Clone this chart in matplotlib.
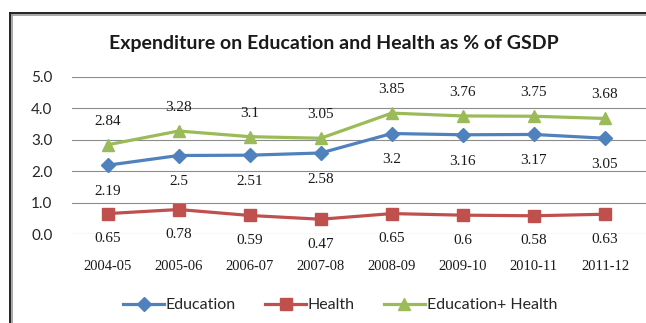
import matplotlib
matplotlib.use("Agg")
import matplotlib.pyplot as plt
from matplotlib.lines import Line2D

years = ["2004-05", "2005-06", "2006-07", "2007-08", "2008-09", "2009-10", "2010-11", "2011-12"]
education = [2.19, 2.5, 2.51, 2.58, 3.2, 3.16, 3.17, 3.05]
health = [0.65, 0.78, 0.59, 0.47, 0.65, 0.6, 0.58, 0.63]
edu_health = [2.84, 3.28, 3.1, 3.05, 3.85, 3.76, 3.75, 3.68]
yticks = [0.0, 1.0, 2.0, 3.0, 4.0, 5.0]

W, H = 646, 323
fig = plt.figure(figsize=(W / 100, H / 100), dpi=100)
fig.patch.set_facecolor("white")

# plot area runs to the right edge of the canvas
ax = fig.add_axes([72 / W, 1 - 234 / H, (646 - 72) / W, (234 - 77) / H])
x = list(range(len(years)))

blue, red, green = "#4F81BD", "#C0504D", "#9BBB59"
ax.plot(x, education, color=blue, lw=2.3, marker="D", ms=7, label="Education", zorder=3)
ax.plot(x, health, color=red, lw=2.3, marker="s", ms=9, label="Health", zorder=3)
ax.plot(x, edu_health, color=green, lw=2.3, marker="^", ms=9, label="Education+ Health", zorder=3)

lab_font = dict(family="Liberation Serif", size=11, color="#1a1a1a")
for xi, v in zip(x, education):
    ax.annotate(f"{v:g}", (xi, v), xytext=(0, -19), textcoords="offset points",
                ha="center", va="center", **lab_font)
for xi, v in zip(x, health):
    ax.annotate(f"{v:g}", (xi, v), xytext=(0, -18), textcoords="offset points",
                ha="center", va="center", **lab_font)
for xi, v in zip(x, edu_health):
    ax.annotate(f"{v:g}", (xi, v), xytext=(0, 17), textcoords="offset points",
                ha="center", va="center", **lab_font)

step = (605 - 108) / 7
ax.set_xlim(-0.5, 7 + (646 - 605) / step)
ax.set_ylim(0, 5)
ax.set_yticks(yticks)
ax.set_yticklabels([f"{t:.1f}" for t in yticks], family="Lato", fontsize=11, color="#262626")
ax.set_xticks(x)
ax.set_xticklabels(years, family="Liberation Serif", fontsize=10.5, color="#1a1a1a")
ax.tick_params(axis="both", length=0)
ax.tick_params(axis="y", pad=14)
ax.tick_params(axis="x", pad=19)
ax.grid(axis="y", color="#8c8c8c", lw=0.8)
ax.set_axisbelow(True)
for s in ax.spines.values():
    s.set_visible(False)

fig.text(334 / W, 1 - 43 / H, "Expenditure on Education and Health as % of GSDP",
         ha="center", va="center", family="Lato", fontweight="bold", fontsize=14, color="#1a1a1a")

leg = fig.legend(loc="center", bbox_to_anchor=(340 / W, 1 - 305 / H), ncol=3, frameon=False,
                 prop=dict(family="Lato", size=11.5), handlelength=2.6, columnspacing=1.8,
                 handletextpad=0.1, borderaxespad=0)
for t in leg.get_texts():
    t.set_color("#262626")

# chart frame with a soft shadow edge
fig.add_artist(Line2D([10 / W, 1.0], [1 - 14.5 / H, 1 - 14.5 / H], color="#9a9a9a", lw=1.2))
fig.add_artist(Line2D([11.5 / W, 11.5 / W], [0, 1 - 13 / H], color="#9a9a9a", lw=1.2))
fig.add_artist(Line2D([9.5 / W, 1.0], [1 - 13 / H, 1 - 13 / H], color="#222222", lw=1.4))
fig.add_artist(Line2D([10 / W, 10 / W], [0, 1 - 13 / H], color="#222222", lw=1.4))

fig.savefig("out.png", dpi=100, facecolor="white")
